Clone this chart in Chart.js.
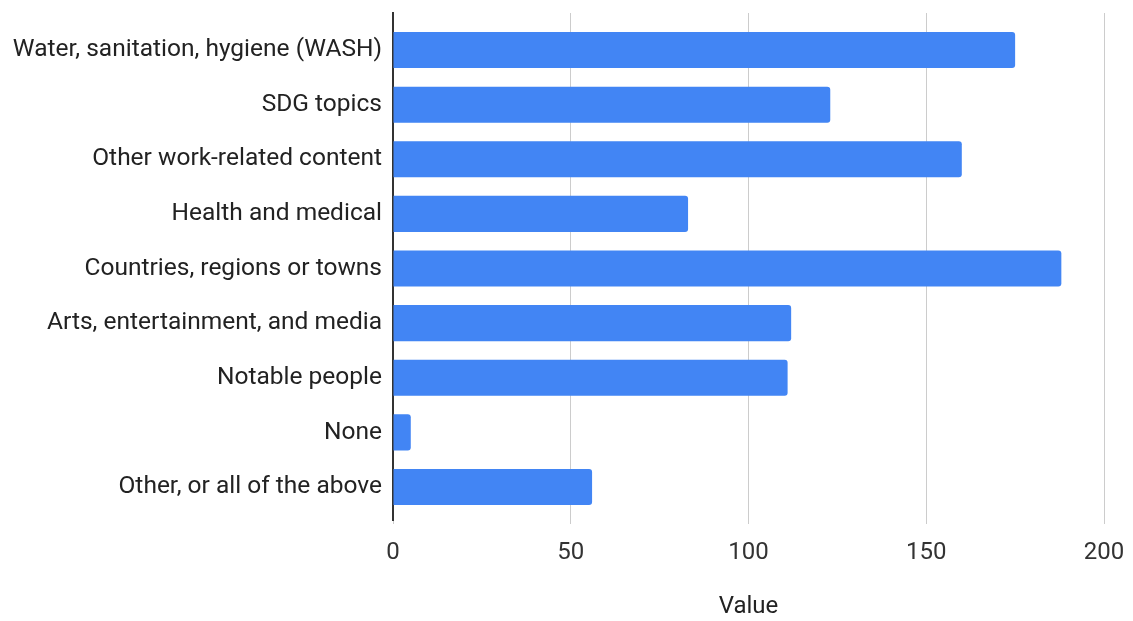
<!DOCTYPE html>
<html>
<head>
<meta charset="utf-8">
<script src="https://cdn.jsdelivr.net/npm/chart.js@4"></script>
<style>
  html, body { margin: 0; padding: 0; background: #fff; }
  #wrap { width: 1133px; height: 621px; }
</style>
</head>
<body>
<div id="wrap"><canvas id="myChart" width="1133" height="621"></canvas></div>
<script>
// Topics vs. count, horizontal bars

const categories = [
  "Water, sanitation, hygiene (WASH)",
  "SDG topics",
  "Other work-related content",
  "Health and medical",
  "Countries, regions or towns",
  "Arts, entertainment, and media",
  "Notable people",
  "None",
  "Other, or all of the above",
];

const values = [175, 123, 160, 83, 188, 112, 111, 5, 56];

const xTicks = [0, 50, 100, 150, 200];

const ctx = document.getElementById("myChart");

// bars sit on a numeric index axis so the top/bottom padding can be set
const points = [];
for (let i = 0; i < values.length; i++) {
  points.push({ x: values[i], y: i });
}

const font = { family: "Roboto", size: 24 };

new Chart(ctx, {
  type: "bar",
  data: {
    datasets: [
      {
        label: "Value",
        data: points,
        backgroundColor: "#4285f4",
        borderRadius: 3,
        barPercentage: 0.66,
        categoryPercentage: 1,
      },
    ],
  },
  options: {
    indexAxis: "y",
    responsive: false,
    animation: false,
    layout: { padding: { top: 13, right: 29, left: 0, bottom: 0 } },
    plugins: {
      legend: { display: false },
      tooltip: { enabled: false },
    },
    scales: {
      x: {
        type: "linear",
        min: 0,
        max: 200,
        afterBuildTicks: (scale) => {
          scale.ticks = xTicks.map((v) => ({ value: v }));
        },
        grid: {
          color: "#cccccc",
          lineWidth: 1,
          drawTicks: true,
          tickLength: 4,
        },
        border: { display: false },
        ticks: {
          color: "#333333",
          font: font,
          padding: 15,
        },
        title: {
          display: true,
          text: "Value",
          color: "#222222",
          font: font,
          padding: { top: 24, bottom: 0 },
        },
        afterFit: (scale) => {
          scale.height = 101;
          scale.paddingLeft = 0;
          scale.paddingRight = 0;
        },
      },
      y: {
        type: "linear",
        reverse: true,
        offset: false,
        min: -0.678,
        max: 8.604,
        afterBuildTicks: (scale) => {
          scale.ticks = categories.map((c, i) => ({ value: i }));
        },
        grid: { display: false, offset: false },
        border: { display: true, color: "#333333", width: 2 },
        ticks: {
          autoSkip: false,
          color: "#222222",
          font: { family: "Roboto", size: 24.5 },
          padding: 3,
          callback: (v) => categories[v],
        },
        afterFit: (scale) => {
          scale.width = 393;
          scale.paddingTop = 0;
          scale.paddingBottom = 0;
        },
      },
    },
  },
});
</script>
</body>
</html>
